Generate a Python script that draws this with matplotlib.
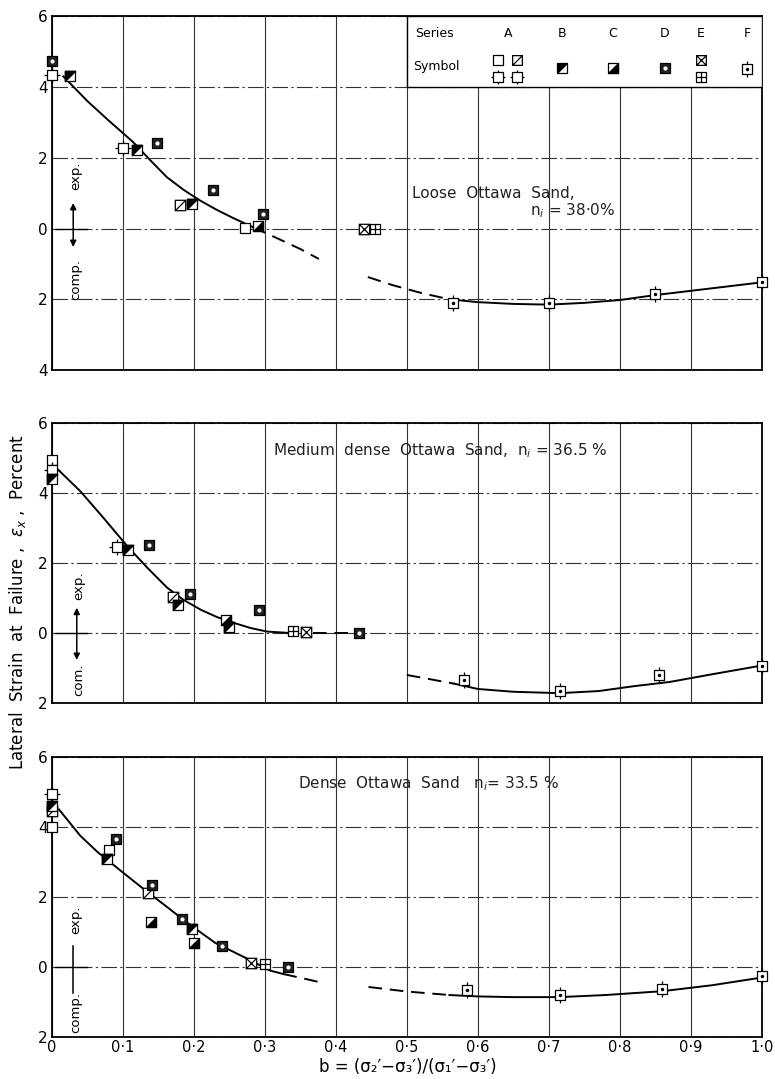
import numpy as np
import matplotlib.pyplot as plt
from matplotlib.path import Path
from matplotlib.patches import Rectangle

# ---- данные ----
# Loose Ottawa Sand
loose_x = [0.0, 0.0, 0.025, 0.10, 0.12, 0.148, 0.18, 0.198, 0.227, 0.272, 0.29, 0.298, 0.44, 0.455,
           0.565, 0.70, 0.85, 1.0]
loose_y = [4.72, 4.35, 4.3, 2.28, 2.22, 2.42, 0.66, 0.7, 1.08, 0.02, 0.08, 0.42, 0.0, 0.0,
           -2.1, -2.1, -1.85, -1.52]
loose_sym = ['D', 'A3', 'B', 'A3', 'B', 'D', 'A2', 'B', 'D', 'A', 'C', 'D', 'E', 'E2',
             'F', 'F', 'F', 'F']
loose_curve_x = [0.016, 0.05, 0.08, 0.114, 0.14, 0.162, 0.185, 0.208, 0.232, 0.255, 0.283]
loose_curve_y = [4.3, 3.6, 3.05, 2.45, 1.9, 1.45, 1.1, 0.8, 0.53, 0.3, 0.04]
loose_dash_x = [0.283, 0.32, 0.35, 0.376]
loose_dash_y = [0.04, -0.3, -0.58, -0.86]
loose_rdash_x = [0.445, 0.48, 0.52, 0.56]
loose_rdash_y = [-1.37, -1.6, -1.82, -2.0]
loose_rcurve_x = [0.56, 0.6, 0.65, 0.7, 0.75, 0.8, 0.85, 0.9, 0.95, 1.0]
loose_rcurve_y = [-2.0, -2.08, -2.13, -2.15, -2.1, -2.02, -1.88, -1.76, -1.64, -1.52]

# Medium dense Ottawa Sand
med_x = [0.0, 0.0, 0.0, 0.092, 0.107, 0.137, 0.17, 0.178, 0.195, 0.245, 0.25, 0.292, 0.34, 0.358, 0.433,
         0.58, 0.715, 0.855, 1.0]
med_y = [4.94, 4.66, 4.4, 2.46, 2.37, 2.5, 1.03, 0.8, 1.12, 0.38, 0.18, 0.65, 0.05, 0.02, 0.0,
         -1.35, -1.65, -1.2, -0.95]
med_sym = ['A', 'A3', 'B', 'A3', 'B', 'D', 'A2', 'B', 'D', 'C', 'B', 'D', 'E2', 'E', 'D',
           'F', 'F', 'F', 'F']
med_curve_x = [0.007, 0.04, 0.07, 0.107, 0.135, 0.162, 0.185, 0.21, 0.233, 0.256, 0.28, 0.303, 0.335]
med_curve_y = [4.7, 4.05, 3.35, 2.46, 1.85, 1.3, 0.95, 0.66, 0.45, 0.29, 0.14, 0.04, 0.0]
med_dash_x = [0.368, 0.425]
med_dash_y = [0.0, 0.0]
med_rdash_x = [0.5, 0.535, 0.567]
med_rdash_y = [-1.2, -1.33, -1.45]
med_rcurve_x = [0.567, 0.6, 0.65, 0.715, 0.77, 0.82, 0.87, 0.93, 1.0]
med_rcurve_y = [-1.45, -1.6, -1.68, -1.72, -1.66, -1.52, -1.4, -1.18, -0.93]

# Dense Ottawa Sand
dense_x = [0.0, 0.0, 0.0, 0.0, 0.077, 0.08, 0.09, 0.136, 0.141, 0.139, 0.183, 0.197, 0.2, 0.24,
           0.28, 0.30, 0.333, 0.585, 0.715, 0.86, 1.0]
dense_y = [4.95, 4.6, 4.45, 4.0, 3.1, 3.35, 3.65, 2.12, 2.34, 1.3, 1.38, 1.08, 0.68, 0.6,
           0.12, 0.1, 0.0, -0.65, -0.8, -0.63, -0.27]
dense_sym = ['A3', 'B', 'A2', 'A', 'B', 'A', 'D', 'A2', 'D', 'C', 'D', 'B', 'C', 'D',
             'E', 'E2', 'D', 'F', 'F', 'F', 'F']
dense_curve_x = [0.01, 0.04, 0.064, 0.1, 0.131, 0.16, 0.189, 0.23, 0.279, 0.307, 0.326]
dense_curve_y = [4.5, 3.75, 3.29, 2.7, 2.2, 1.75, 1.29, 0.69, 0.2, -0.1, -0.2]
dense_dash_x = [0.326, 0.355, 0.383]
dense_dash_y = [-0.2, -0.33, -0.46]
dense_rdash_x = [0.446, 0.5, 0.56]
dense_rdash_y = [-0.57, -0.7, -0.8]
dense_rcurve_x = [0.56, 0.6, 0.65, 0.715, 0.78, 0.86, 0.93, 1.0]
dense_rcurve_y = [-0.8, -0.84, -0.86, -0.86, -0.8, -0.69, -0.52, -0.3]

series_names = ['A', 'B', 'C', 'D', 'E', 'F']
xtick_vals = [0, 0.1, 0.2, 0.3, 0.4, 0.5, 0.6, 0.7, 0.8, 0.9, 1.0]
xtick_text = ['0', '0·1', '0·2', '0·3', '0·4', '0·5', '0·6', '0·7', '0·8', '0·9', '1·0']

# ---- маркеры ----
M, L, C = Path.MOVETO, Path.LINETO, Path.CLOSEPOLY
sq_v = [(-1, -1), (1, -1), (1, 1), (-1, 1), (-1, -1)]
sq_c = [M, L, L, L, C]
SQ = Path(sq_v, sq_c)
SQ_DIAG = Path(sq_v + [(-1, -1), (1, 1)], sq_c + [M, L])
SQ_X = Path(sq_v + [(-1, -1), (1, 1), (-1, 1), (1, -1)], sq_c + [M, L, M, L])
SQ_PLUS = Path(sq_v + [(0, -1), (0, 1), (-1, 0), (1, 0)], sq_c + [M, L, M, L])
SQ_TAIL = Path(sq_v + [(0, 1), (0, 1.5), (0, -1), (0, -1.5), (-1, 0), (-1.5, 0), (1, 0), (1.5, 0)],
               sq_c + [M, L, M, L, M, L, M, L])
SQ_F = Path(sq_v + [(0, 1), (0, 1.6), (0, -1), (0, -1.6)], sq_c + [M, L, M, L])
TRI_UL = Path([(-1, -1), (1, 1), (-1, 1), (-1, -1)], [M, L, L, C])
TRI_LR = Path([(-1, -1), (1, -1), (1, 1), (-1, -1)], [M, L, L, C])

MS = 7.5


def put(ax, xs, ys, kind, ms=MS):
    kw = dict(ls='none', mec='k', mew=0.9, zorder=5, clip_on=False)
    if kind == 'A':
        ax.plot(xs, ys, marker=SQ, ms=ms, mfc='white', **kw)
    elif kind == 'A2':
        ax.plot(xs, ys, marker=SQ_DIAG, ms=ms, mfc='white', **kw)
    elif kind == 'A3':
        ax.plot(xs, ys, marker=SQ_TAIL, ms=ms * 1.5, mfc='white', **kw)
    elif kind == 'B':
        ax.plot(xs, ys, marker=SQ, ms=ms, mfc='white', **kw)
        ax.plot(xs, ys, marker=TRI_UL, ms=ms, mfc='k', **kw)
    elif kind == 'C':
        ax.plot(xs, ys, marker=SQ, ms=ms, mfc='white', **kw)
        ax.plot(xs, ys, marker=TRI_LR, ms=ms, mfc='k', **kw)
    elif kind == 'D':
        ax.plot(xs, ys, marker=SQ, ms=ms, mfc='#222222', **kw)
        ax.plot(xs, ys, ls='none', marker='o', ms=2, mfc='white', mec='white', zorder=6, clip_on=False)
    elif kind == 'E':
        ax.plot(xs, ys, marker=SQ_X, ms=ms, mfc='white', **kw)
    elif kind == 'E2':
        ax.plot(xs, ys, marker=SQ_PLUS, ms=ms, mfc='white', **kw)
    elif kind == 'F':
        ax.plot(xs, ys, marker=SQ_F, ms=ms * 1.6, mfc='white', **kw)
        ax.plot(xs, ys, ls='none', marker='o', ms=1.5, mfc='k', mec='k', zorder=6, clip_on=False)


def panel(ax, xs, ys, syms, curves, dashes, ymin, text, text_xy, arrow):
    ax.set_xlim(0, 1.0)
    ax.set_ylim(ymin, 6)
    yt = list(range(ymin, 7, 2))
    ax.set_yticks(yt)
    ax.set_yticklabels([str(abs(v)) for v in yt], fontsize=11)
    ax.set_xticks(xtick_vals)
    ax.tick_params(length=0, pad=3)
    ax.set_axisbelow(True)
    ax.grid(True, axis='x', color='#333333', lw=0.8)
    ax.grid(True, axis='y', color='#333333', lw=0.8, dashes=(14, 3, 2, 3))
    for s in ax.spines.values():
        s.set_linewidth(1.3)
    for cx, cy in curves:
        ax.plot(cx, cy, color='k', lw=1.4, zorder=4)
    for cx, cy in dashes:
        ax.plot(cx, cy, color='k', lw=1.4, dashes=(7, 4), zorder=4)
    xs = np.array(xs)
    ys = np.array(ys)
    syms = np.array(syms)
    for k in np.unique(syms):
        m = syms == k
        put(ax, xs[m], ys[m], k)
    ax.text(text_xy[0], text_xy[1], text, fontsize=11, ha='left', va='center', color='#222222')
    # стрелка exp./comp.
    ax_x, y_top, y_bot, exp_y, comp_y, comp_txt, heads = arrow
    if heads:
        ax.annotate('', xy=(ax_x, y_top), xytext=(ax_x, y_bot),
                    arrowprops=dict(arrowstyle='<|-|>', color='k', lw=1.1, mutation_scale=9))
    else:
        ax.plot([ax_x, ax_x], [y_top, y_bot], color='k', lw=1.1)
    ax.plot([0.005, 0.05], [0, 0], color='k', lw=1.0)
    ax.text(ax_x + 0.003, exp_y, 'exp.', rotation=90, fontsize=9.5, ha='center', va='center')
    ax.text(ax_x + 0.003, comp_y, comp_txt, rotation=90, fontsize=9.5, ha='center', va='center')


fig = plt.figure(figsize=(7.75, 10.79), dpi=100)
ax1 = fig.add_axes([0.067, 0.657, 0.916, 0.328])
ax2 = fig.add_axes([0.067, 0.3485, 0.916, 0.2595])
ax3 = fig.add_axes([0.067, 0.0389, 0.916, 0.2595])

panel(ax1, loose_x, loose_y, loose_sym,
      [(loose_curve_x, loose_curve_y), (loose_rcurve_x, loose_rcurve_y)],
      [(loose_dash_x, loose_dash_y), (loose_rdash_x, loose_rdash_y)],
      -4, 'Loose  Ottawa  Sand,', (0.507, 1.0),
      (0.03, 0.8, -0.6, 1.5, -1.45, 'comp.', True))
ax1.text(0.673, 0.5, r'n$_i$ = 38·0%', fontsize=11, ha='left', va='center', color='#222222')

panel(ax2, med_x, med_y, med_sym,
      [(med_curve_x, med_curve_y), (med_rcurve_x, med_rcurve_y)],
      [(med_dash_x, med_dash_y), (med_rdash_x, med_rdash_y)],
      -2, r'Medium  dense  Ottawa  Sand,  n$_i$ = 36.5 %', (0.311, 5.2),
      (0.035, 0.8, -0.85, 1.35, -1.35, 'com.', True))

panel(ax3, dense_x, dense_y, dense_sym,
      [(dense_curve_x, dense_curve_y), (dense_rcurve_x, dense_rcurve_y)],
      [(dense_dash_x, dense_dash_y), (dense_rdash_x, dense_rdash_y)],
      -2, r'Dense  Ottawa  Sand   n$_i$= 33.5 %', (0.347, 5.25),
      (0.03, 0.6, -0.75, 1.35, -1.3, 'comp.', False))

ax1.tick_params(labelbottom=False)
ax2.tick_params(labelbottom=False)
ax3.set_xticklabels(xtick_text, fontsize=10.5)
ax3.tick_params(axis='x', pad=2)

# таблица серий/символов в верхнем графике
ax1.add_patch(Rectangle((0.5, 4.0), 0.5, 2.0, facecolor='white', edgecolor='k', lw=1.0, zorder=3))
ax1.text(0.512, 5.52, 'Series', fontsize=9, va='center', zorder=6)
ax1.text(0.509, 4.57, 'Symbol', fontsize=9, va='center', zorder=6)
series_x = [0.642, 0.718, 0.79, 0.863, 0.914, 0.979]
for sx, name in zip(series_x, series_names):
    ax1.text(sx, 5.52, name, fontsize=9, ha='center', va='center', zorder=6)
put(ax1, [0.628], [4.76], 'A', ms=7)
put(ax1, [0.655], [4.76], 'A2', ms=7)
put(ax1, [0.628, 0.655], [4.27, 4.27], 'A3', ms=7)
put(ax1, [0.718], [4.55], 'B', ms=7)
put(ax1, [0.79], [4.55], 'C', ms=7)
put(ax1, [0.863], [4.55], 'D', ms=7)
put(ax1, [0.914], [4.76], 'E', ms=7)
put(ax1, [0.914], [4.27], 'E2', ms=7)
put(ax1, [0.979], [4.5], 'F', ms=7)

fig.text(0.022, 0.442, r'Lateral  Strain  at  Failure ,  $\epsilon_x$ ,  Percent',
         rotation=90, fontsize=12, ha='center', va='center')
fig.text(0.526, 0.003, 'b = (σ₂′−σ₃′)/(σ₁′−σ₃′)',
         fontsize=12, ha='center', va='bottom')

fig.savefig('out.png', dpi=100)
